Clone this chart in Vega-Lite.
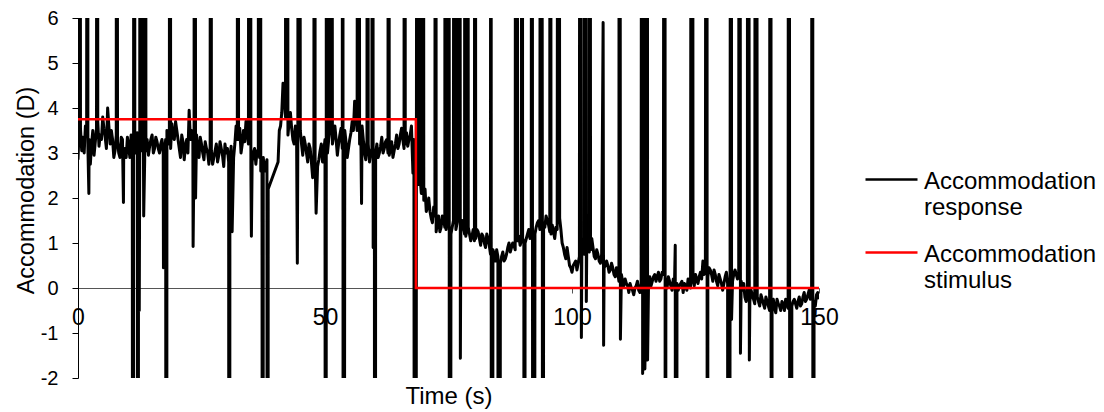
{
  "$schema": "https://vega.github.io/schema/vega-lite/v6.json",
  "autosize": {"type": "none"},
  "padding": {"left": 78, "top": 18, "right": 285, "bottom": 34},
  "width": 741,
  "height": 360,
  "background": "white",
  "config": {
    "font": "Liberation Sans",
    "view": {"stroke": null}
  },
  "datasets": {
    "response": [
      {"t":0,"v":2.85},{"t":0.3,"v":40},{"t":0.5,"v":3.55},{"t":1,"v":3.35},{"t":1.5,"v":3.6},{"t":1.96,"v":40},{"t":2,"v":3.15},{"t":2.2,"v":2.1},{"t":2.5,"v":2.75},{"t":3,"v":3.5},{"t":3.5,"v":3.25},{"t":3.9,"v":40},{"t":4,"v":3.7},{"t":4.5,"v":3.4},{"t":5,"v":3.8},{"t":5.5,"v":3.35},{"t":6,"v":4.0},{"t":6.5,"v":3.2},{"t":7,"v":3.3},{"t":7.5,"v":3.05},{"t":7.8,"v":40},{"t":8,"v":3.25},{"t":8.5,"v":2.9},{"t":9,"v":3.3},{"t":9.2,"v":1.9},{"t":9.5,"v":3.1},{"t":10,"v":3.35},
      {"t":10.5,"v":2.9},{"t":11,"v":3.2},{"t":11.1,"v":-40},{"t":11.4,"v":40},{"t":11.5,"v":3.0},{"t":12,"v":3.45},{"t":12.1,"v":-40},{"t":12.4,"v":-0.5},{"t":12.5,"v":3.1},{"t":12.6,"v":40},{"t":13,"v":3.35},{"t":13.1,"v":40},{"t":13.3,"v":1.6},{"t":13.5,"v":2.85},{"t":13.6,"v":40},{"t":14,"v":3.3},{"t":14.5,"v":3.15},{"t":15,"v":3.4},{"t":15.5,"v":3.1},{"t":16,"v":3.25},{"t":16.5,"v":3.0},{"t":17,"v":3.3},{"t":17.3,"v":0.45},{"t":17.5,"v":3.05},{"t":17.9,"v":-40},{"t":18,"v":3.5},{"t":18.5,"v":3.2},{"t":18.6,"v":40},{"t":19,"v":3.65},{"t":19.5,"v":3.3},{"t":20,"v":3.5},
      {"t":20.5,"v":3.1},{"t":21,"v":3.4},{"t":21.5,"v":2.85},{"t":22,"v":3.3},{"t":22.5,"v":3.95},{"t":23,"v":3.5},{"t":23.3,"v":0.92},{"t":23.5,"v":3.2},{"t":23.6,"v":40},{"t":23.8,"v":2.0},{"t":24,"v":3.4},{"t":24.5,"v":2.9},{"t":25,"v":3.2},{"t":25.5,"v":2.85},{"t":26,"v":3.1},{"t":26.5,"v":2.75},{"t":26.9,"v":40},{"t":27,"v":3.05},{"t":27.5,"v":2.9},{"t":28,"v":3.2},{"t":28.5,"v":2.95},{"t":29,"v":3.1},{"t":29.5,"v":2.7},{"t":30,"v":3.0},
      {"t":30.5,"v":2.8},{"t":30.6,"v":-40},{"t":31,"v":3.15},{"t":31.2,"v":1.25},{"t":31.5,"v":2.9},{"t":32,"v":3.6},{"t":32.4,"v":40},{"t":32.5,"v":3.3},{"t":33,"v":3.0},{"t":33.5,"v":3.5},{"t":34,"v":3.7},{"t":34.5,"v":3.2},{"t":34.8,"v":40},{"t":35,"v":2.65},{"t":35.1,"v":1.15},{"t":35.5,"v":3.0},{"t":36,"v":2.75},{"t":36.5,"v":2.95},{"t":36.6,"v":40},{"t":36.75,"v":2.9},{"t":36.9,"v":40},{"t":37,"v":2.6},{"t":37.4,"v":-40},{"t":37.5,"v":2.9},{"t":38,"v":2.7},{"t":38.4,"v":-40},{"t":38.5,"v":2.2},
      {"t":40.5,"v":2.8},{"t":41,"v":3.6},{"t":41.5,"v":4.55},{"t":42,"v":3.8},{"t":42.2,"v":40},{"t":42.5,"v":3.4},{"t":43,"v":3.9},{"t":43.5,"v":3.3},{"t":44,"v":3.6},{"t":44.4,"v":0.55},{"t":44.5,"v":3.2},{"t":44.7,"v":40},{"t":45,"v":3.5},{"t":45.5,"v":2.95},{"t":46,"v":3.2},{"t":46.5,"v":2.8},{"t":47,"v":3.1},{"t":47.5,"v":2.45},{"t":47.9,"v":40},{"t":48,"v":2.9},{"t":48.2,"v":1.66},{"t":48.5,"v":2.7},{"t":49,"v":3.05},{"t":49.5,"v":2.8},{"t":50,"v":3.3},
      {"t":50.2,"v":-40},{"t":50.3,"v":40},{"t":50.5,"v":3.0},{"t":51,"v":3.5},{"t":51.2,"v":40},{"t":51.5,"v":3.2},{"t":52,"v":3.6},{"t":52.5,"v":2.95},{"t":53,"v":3.4},{"t":53.5,"v":3.1},{"t":53.6,"v":40},{"t":53.7,"v":-40},{"t":54,"v":3.5},{"t":54.5,"v":2.9},{"t":55,"v":3.3},{"t":55.5,"v":3.7},{"t":56,"v":4.15},{"t":56.5,"v":3.5},{"t":56.8,"v":40},{"t":57,"v":3.2},{"t":57.4,"v":1.88},{"t":57.5,"v":3.6},{"t":58,"v":3.0},{"t":58.5,"v":3.3},{"t":58.6,"v":40},{"t":59,"v":2.8},{"t":59.5,"v":3.1},{"t":59.6,"v":40},{"t":59.75,"v":0.9},{"t":60,"v":2.9},
      {"t":60.1,"v":-40},{"t":60.5,"v":3.2},{"t":61,"v":3.0},{"t":61.5,"v":3.35},{"t":62,"v":3.1},{"t":62.5,"v":3.3},{"t":62.9,"v":40},{"t":63,"v":2.95},{"t":63.5,"v":3.25},{"t":64,"v":3.05},{"t":64.5,"v":3.4},{"t":65,"v":3.2},{"t":65.5,"v":3.55},{"t":66,"v":3.1},{"t":66.1,"v":40},{"t":66.5,"v":3.45},{"t":67,"v":3.3},{"t":67.5,"v":3.6},{"t":67.8,"v":2.55},{"t":68,"v":3.3},{"t":68.3,"v":-40},{"t":68.5,"v":2.6},{"t":68.8,"v":40},{"t":69,"v":2.3},{"t":69.5,"v":2.1},{"t":69.8,"v":40},{"t":70,"v":1.95},
      {"t":70.5,"v":1.7},{"t":71,"v":2.0},{"t":71.5,"v":1.55},{"t":72,"v":1.8},{"t":72.4,"v":40},{"t":72.5,"v":1.25},{"t":73,"v":1.6},{"t":73.5,"v":1.35},{"t":74,"v":1.55},{"t":74.4,"v":40},{"t":74.5,"v":1.3},{"t":75,"v":1.45},{"t":75.1,"v":40},{"t":75.2,"v":-40},{"t":75.5,"v":1.2},{"t":76,"v":1.5},{"t":76.2,"v":40},{"t":76.5,"v":1.3},{"t":77,"v":1.6},{"t":77.2,"v":40},{"t":77.4,"v":-1.56},{"t":77.5,"v":1.25},{"t":78,"v":1.4},{"t":78.4,"v":40},{"t":78.5,"v":1.15},{"t":78.9,"v":40},{"t":79,"v":1.35},{"t":79.5,"v":1.05},{"t":80,"v":1.3},
      {"t":80.4,"v":40},{"t":80.5,"v":1.1},{"t":81,"v":1.25},{"t":81.5,"v":0.95},{"t":82,"v":1.15},{"t":82.5,"v":0.9},{"t":83,"v":1.1},{"t":83.5,"v":0.75},{"t":83.6,"v":40},{"t":83.7,"v":-40},{"t":84,"v":0.85},{"t":84.5,"v":0.6},{"t":85,"v":0.7},{"t":85.2,"v":-40},{"t":85.5,"v":0.55},{"t":86,"v":0.8},{"t":86.5,"v":0.65},{"t":87,"v":0.9},{"t":87.5,"v":0.8},{"t":88,"v":1.0},{"t":88.5,"v":0.85},{"t":88.7,"v":40},{"t":89,"v":1.05},{"t":89.5,"v":0.95},{"t":89.9,"v":40},{"t":90,"v":1.1},
      {"t":90.4,"v":-40},{"t":90.5,"v":1.0},{"t":91,"v":1.2},{"t":91.5,"v":1.1},{"t":91.9,"v":40},{"t":92,"v":1.35},{"t":92.2,"v":-40},{"t":92.5,"v":1.2},{"t":93,"v":1.45},{"t":93.5,"v":1.3},{"t":93.7,"v":40},{"t":94,"v":1.6},{"t":94.1,"v":-40},{"t":94.5,"v":1.35},{"t":95,"v":1.5},{"t":95.5,"v":1.25},{"t":95.6,"v":40},{"t":96,"v":1.4},{"t":96.5,"v":1.1},{"t":97,"v":1.3},{"t":97.3,"v":40},{"t":97.5,"v":1.55},{"t":98,"v":1.0},{"t":98.5,"v":0.75},{"t":99,"v":0.9},{"t":99.5,"v":0.5},{"t":100,"v":0.35},
      {"t":100.5,"v":0.55},{"t":101,"v":0.4},{"t":101.5,"v":0.7},{"t":101.7,"v":40},{"t":101.9,"v":-1.1},{"t":102,"v":0.95},{"t":102.5,"v":0.75},{"t":102.7,"v":40},{"t":102.9,"v":-0.3},{"t":103,"v":1.05},{"t":103.5,"v":0.8},{"t":103.6,"v":40},{"t":104,"v":1.1},{"t":104.5,"v":0.7},{"t":105,"v":0.85},{"t":105.5,"v":0.6},{"t":106,"v":0.75},{"t":106.3,"v":5.9},{"t":106.4,"v":-1.27},{"t":106.5,"v":0.45},{"t":107,"v":0.6},{"t":107.5,"v":0.35},{"t":108,"v":0.55},{"t":108.5,"v":0.3},{"t":109,"v":0.45},{"t":109.5,"v":0.15},{"t":109.6,"v":40},{"t":109.8,"v":-1.14},{"t":110,"v":0.3},
      {"t":110.5,"v":0.05},{"t":111,"v":0.1},{"t":111.5,"v":-0.1},{"t":112,"v":0.0},{"t":112.5,"v":-0.15},{"t":113,"v":0.05},{"t":113.5,"v":-0.05},{"t":114,"v":0.1},{"t":114.2,"v":40},{"t":114.3,"v":-1.9},{"t":114.5,"v":-0.2},{"t":114.6,"v":40},{"t":114.75,"v":-1.8},{"t":115,"v":0.05},{"t":115.2,"v":40},{"t":115.3,"v":-1.6},{"t":115.5,"v":0.15},{"t":116,"v":0.05},{"t":116.5,"v":0.25},{"t":117,"v":0.15},{"t":117.5,"v":0.35},{"t":118,"v":0.2},{"t":118.5,"v":0.3},{"t":118.8,"v":40},{"t":118.9,"v":-40},{"t":119,"v":0.1},{"t":119.5,"v":0.25},{"t":120,"v":0.05},
      {"t":120.5,"v":0.2},{"t":120.9,"v":0.95},{"t":121.1,"v":-40},{"t":121.5,"v":-0.05},{"t":122,"v":0.1},{"t":122.5,"v":-0.1},{"t":123,"v":0.05},{"t":123.5,"v":0.2},{"t":124,"v":0.0},{"t":124.3,"v":40},{"t":124.5,"v":0.15},{"t":125,"v":0.3},{"t":125.5,"v":0.1},{"t":126,"v":0.35},{"t":126.5,"v":0.6},{"t":127,"v":0.45},{"t":127.3,"v":40},{"t":127.4,"v":-40},{"t":127.5,"v":0.25},{"t":128,"v":0.4},{"t":128.5,"v":0.15},{"t":129,"v":0.3},{"t":129.5,"v":0.05},{"t":130,"v":0.2},
      {"t":130.5,"v":-0.05},{"t":131,"v":0.25},{"t":131.5,"v":0.1},{"t":131.7,"v":-40},{"t":132,"v":0.3},{"t":132.2,"v":40},{"t":132.3,"v":-0.7},{"t":132.5,"v":0.15},{"t":133,"v":0.4},{"t":133.5,"v":0.2},{"t":133.9,"v":40},{"t":134.1,"v":-1.45},{"t":134.5,"v":-0.05},{"t":135,"v":-0.2},{"t":135.5,"v":-0.1},{"t":135.6,"v":40},{"t":135.9,"v":-1.6},{"t":136,"v":-0.3},{"t":136.5,"v":-0.15},{"t":137,"v":-0.35},{"t":137.2,"v":40},{"t":137.5,"v":-0.2},{"t":138,"v":-0.4},{"t":138.5,"v":-0.25},{"t":139,"v":-0.45},{"t":139.5,"v":-0.3},{"t":140,"v":-0.5},
      {"t":140.2,"v":40},{"t":140.4,"v":-40},{"t":140.5,"v":-0.35},{"t":141,"v":-0.45},{"t":141.5,"v":-0.25},{"t":142,"v":-0.4},{"t":142.5,"v":-0.3},{"t":143,"v":-0.5},{"t":143.5,"v":-0.35},{"t":143.9,"v":40},{"t":144.2,"v":-40},{"t":144.5,"v":-0.4},{"t":145,"v":-0.25},{"t":145.5,"v":-0.45},{"t":146,"v":-0.2},{"t":146.5,"v":-0.35},{"t":147,"v":-0.1},{"t":147.5,"v":-0.25},{"t":148,"v":-0.05},{"t":148.5,"v":-0.2},{"t":148.7,"v":40},{"t":148.8,"v":-40},{"t":149,"v":-0.3},{"t":149.5,"v":-0.15},{"t":150,"v":-0.25},
      {"t":0.25,"v":3.6},{"t":0.75,"v":3.05},{"t":1.25,"v":3.0},{"t":1.75,"v":3.45},{"t":2.25,"v":3.3},{"t":2.75,"v":3.2},{"t":3.25,"v":2.95},{"t":3.75,"v":3.55},{"t":4.25,"v":3.15},{"t":4.75,"v":3.3},{"t":5.25,"v":3.55},{"t":5.75,"v":3.1},{"t":6.25,"v":3.6},{"t":6.75,"v":3.5},{"t":7.25,"v":2.9},{"t":7.75,"v":3.4},{"t":8.25,"v":3.0},{"t":8.75,"v":3.35},{"t":9.25,"v":2.95},{"t":9.75,"v":2.9},
      {"t":10.25,"v":3.15},{"t":10.75,"v":3.4},{"t":11.25,"v":3.1},{"t":11.75,"v":3.15},{"t":12.25,"v":3.2},{"t":12.75,"v":3.05},{"t":13.25,"v":3.0},{"t":13.75,"v":3.05},{"t":14.25,"v":2.95},{"t":14.75,"v":3.3},{"t":15.25,"v":3.0},{"t":15.75,"v":3.35},{"t":16.25,"v":3.1},{"t":16.75,"v":3.2},{"t":17.25,"v":3.0},{"t":17.75,"v":3.3},{"t":18.25,"v":3.25},{"t":18.75,"v":3.1},{"t":19.25,"v":3.35},{"t":19.75,"v":3.7},
      {"t":20.25,"v":3.3},{"t":20.75,"v":2.9},{"t":21.25,"v":3.25},{"t":21.75,"v":3.15},{"t":22.25,"v":3.0},{"t":22.75,"v":3.3},{"t":23.25,"v":3.3},{"t":24.25,"v":3.1},{"t":24.75,"v":3.35},{"t":25.25,"v":3.0},{"t":25.75,"v":3.25},{"t":26.25,"v":3.0},{"t":26.75,"v":3.15},{"t":27.25,"v":2.75},{"t":27.75,"v":3.05},{"t":28.25,"v":2.8},{"t":28.75,"v":3.25},{"t":29.25,"v":2.95},{"t":29.75,"v":3.2},
      {"t":30.25,"v":3.1},{"t":30.75,"v":2.85},{"t":31.75,"v":3.2},{"t":32.25,"v":3.3},{"t":32.75,"v":3.55},{"t":33.25,"v":3.2},{"t":33.75,"v":3.25},{"t":34.25,"v":3.45},{"t":35.25,"v":2.8},{"t":35.75,"v":3.1},{"t":36.25,"v":3.05},{"t":37.25,"v":2.9},{"t":37.75,"v":2.6},{"t":38.25,"v":2.85},
      {"t":40.75,"v":3.5},{"t":41.25,"v":3.9},{"t":41.75,"v":4.2},{"t":42.75,"v":3.7},{"t":43.25,"v":3.55},{"t":43.75,"v":3.2},{"t":44.25,"v":3.3},{"t":45.25,"v":3.2},{"t":45.75,"v":3.35},{"t":46.25,"v":3.0},{"t":46.75,"v":3.2},{"t":47.25,"v":2.8},{"t":47.75,"v":2.9},{"t":48.75,"v":2.85},{"t":49.25,"v":3.2},{"t":49.75,"v":3.05},
      {"t":50.75,"v":3.3},{"t":51.75,"v":3.4},{"t":52.25,"v":3.3},{"t":52.75,"v":3.2},{"t":53.25,"v":3.55},{"t":54.25,"v":3.25},{"t":54.75,"v":3.1},{"t":55.25,"v":3.45},{"t":55.75,"v":3.5},{"t":56.25,"v":3.8},{"t":57.25,"v":3.45},{"t":57.75,"v":3.3},{"t":58.25,"v":2.85},{"t":58.75,"v":3.2},{"t":59.25,"v":3.0},
      {"t":60.25,"v":3.0},{"t":60.75,"v":2.9},{"t":61.25,"v":3.15},{"t":61.75,"v":3.0},{"t":62.25,"v":3.25},{"t":62.75,"v":3.0},{"t":63.25,"v":3.1},{"t":63.75,"v":2.9},{"t":64.25,"v":3.2},{"t":64.75,"v":3.1},{"t":65.25,"v":3.4},{"t":65.75,"v":3.3},{"t":66.25,"v":3.2},{"t":66.75,"v":3.15},{"t":67.25,"v":3.4},
      {"t":69.25,"v":2.45},{"t":70.25,"v":2.2},{"t":70.75,"v":1.8},{"t":71.25,"v":1.7},{"t":71.75,"v":1.45},{"t":72.25,"v":1.6},{"t":72.75,"v":1.45},{"t":73.25,"v":1.25},{"t":73.75,"v":1.6},{"t":74.25,"v":1.35},{"t":74.75,"v":1.55},{"t":75.75,"v":1.35},{"t":76.75,"v":1.45},{"t":77.75,"v":1.5},{"t":78.25,"v":1.2},{"t":78.75,"v":1.3},{"t":79.25,"v":1.2},{"t":79.75,"v":1.15},
      {"t":80.25,"v":1.05},{"t":80.75,"v":1.3},{"t":81.25,"v":1.1},{"t":81.75,"v":1.2},{"t":82.25,"v":1.0},{"t":82.75,"v":1.2},{"t":83.25,"v":0.95},{"t":84.25,"v":0.75},{"t":84.75,"v":0.85},{"t":85.75,"v":0.7},{"t":86.25,"v":0.6},{"t":86.75,"v":0.75},{"t":87.25,"v":1.0},{"t":87.75,"v":0.9},{"t":88.25,"v":0.95},{"t":89.25,"v":1.15},{"t":89.75,"v":1.05},
      {"t":90.25,"v":1.0},{"t":90.75,"v":1.1},{"t":91.25,"v":1.3},{"t":91.75,"v":1.25},{"t":92.75,"v":1.35},{"t":93.25,"v":1.5},{"t":94.25,"v":1.45},{"t":94.75,"v":1.6},{"t":95.25,"v":1.4},{"t":95.75,"v":1.2},{"t":96.25,"v":1.25},{"t":96.75,"v":1.35},{"t":97.75,"v":1.3},{"t":98.25,"v":0.9},{"t":98.75,"v":0.65},{"t":99.25,"v":0.7},{"t":99.75,"v":0.45},
      {"t":100.25,"v":0.5},{"t":100.75,"v":0.6},{"t":101.25,"v":0.55},{"t":102.25,"v":0.85},{"t":103.25,"v":0.9},{"t":103.75,"v":0.85},{"t":104.25,"v":0.9},{"t":104.75,"v":0.65},{"t":105.25,"v":0.75},{"t":105.75,"v":0.55},{"t":106.75,"v":0.5},{"t":107.25,"v":0.5},{"t":107.75,"v":0.4},{"t":108.25,"v":0.45},{"t":108.75,"v":0.25},{"t":109.25,"v":0.35},
      {"t":110.25,"v":0.15},{"t":110.75,"v":0.2},{"t":111.25,"v":0.05},{"t":111.75,"v":0.1},{"t":112.25,"v":-0.05},{"t":112.75,"v":0.0},{"t":113.25,"v":0.15},{"t":113.75,"v":-0.1},{"t":115.75,"v":0.25},{"t":116.25,"v":0.15},{"t":116.75,"v":0.3},{"t":117.25,"v":0.25},{"t":117.75,"v":0.15},{"t":118.25,"v":0.35},{"t":119.25,"v":0.0},{"t":119.75,"v":0.15},
      {"t":120.25,"v":-0.05},{"t":120.75,"v":0.1},{"t":121.25,"v":0.1},{"t":121.75,"v":0.05},{"t":122.25,"v":0.15},{"t":122.75,"v":0.1},{"t":123.25,"v":-0.05},{"t":123.75,"v":0.1},{"t":124.75,"v":0.05},{"t":125.25,"v":0.2},{"t":125.75,"v":0.25},{"t":126.25,"v":0.2},{"t":126.75,"v":0.3},{"t":127.75,"v":0.45},{"t":128.25,"v":0.3},{"t":128.75,"v":0.4},{"t":129.25,"v":0.15},{"t":129.75,"v":0.3},
      {"t":130.25,"v":0.1},{"t":130.75,"v":0.1},{"t":131.25,"v":0.35},{"t":132.75,"v":0.3},{"t":133.25,"v":0.3},{"t":133.75,"v":0.35},{"t":134.25,"v":0.15},{"t":134.75,"v":0.1},{"t":135.25,"v":-0.3},{"t":136.25,"v":-0.05},{"t":136.75,"v":-0.25},{"t":137.75,"v":-0.3},{"t":138.25,"v":-0.15},{"t":138.75,"v":-0.35},{"t":139.25,"v":-0.2},{"t":139.75,"v":-0.4},
      {"t":140.75,"v":-0.25},{"t":141.25,"v":-0.55},{"t":141.75,"v":-0.35},{"t":142.25,"v":-0.5},{"t":142.75,"v":-0.35},{"t":143.25,"v":-0.25},{"t":143.75,"v":-0.45},{"t":144.75,"v":-0.3},{"t":145.25,"v":-0.35},{"t":145.75,"v":-0.3},{"t":146.25,"v":-0.4},{"t":146.75,"v":-0.2},{"t":147.25,"v":-0.3},{"t":147.75,"v":-0.15},{"t":148.25,"v":-0.25},{"t":149.25,"v":-0.4},{"t":149.75,"v":-0.1}
    ],
    "stimulus": [
      {"t":0,"v":3.75},{"t":68.4,"v":3.75},{"t":68.4,"v":0},{"t":150,"v":0}
    ]
  },
  "layer": [
    {
      "data": {"name": "response"},
      "mark": {"type": "line", "clip": true, "strokeWidth": 3, "strokeJoin": "round"},
      "encoding": {
        "x": {
          "field": "t", "type": "quantitative",
          "scale": {"domain": [0, 150], "nice": false, "zero": false},
          "axis": {
            "title": "Time (s)", "values": [0, 50, 100, 150], "grid": false,
            "offset": -90, "domainColor": "#555555", "domainWidth": 1,
            "tickColor": "#555555", "tickSize": 5, "labelPadding": 13,
            "labelFlush": false, "labelFontSize": 23, "labelColor": "#000000",
            "labelExpr": "'' + datum.value",
            "titleFontSize": 24, "titleFontWeight": "normal", "titleColor": "#000000",
            "titleBaseline": "alphabetic", "titleY": 115
          }
        },
        "y": {
          "field": "v", "type": "quantitative",
          "scale": {"domain": [-2, 6], "nice": false, "zero": false},
          "axis": {
            "title": "Accommodation (D)", "values": [-2, -1, 0, 1, 2, 3, 4, 5, 6], "grid": false,
            "domainColor": "#000000", "domainWidth": 1, "tickColor": "#000000",
            "tickSize": 6, "labelPadding": 14, "labelFontSize": 20, "labelColor": "#000000",
            "labelExpr": "'' + datum.value",
            "titleFontSize": 23.5, "titleFontWeight": "normal", "titleColor": "#000000",
            "titleBaseline": "alphabetic", "titleX": -45, "titleY": 172, "titleAlign": "center"
          }
        },
        "color": {
          "datum": "Accommodation response", "type": "nominal",
          "scale": {"domain": ["Accommodation response", "Accommodation stimulus"], "range": ["#000000", "#ff0000"]},
          "legend": {
            "title": null, "orient": "none", "legendX": 786, "legendY": 134, "padding": 0,
            "symbolType": "stroke", "symbolSize": 2704, "symbolStrokeWidth": 2.5,
            "labelFontSize": 24, "labelColor": "#000000", "labelOffset": 5, "labelLimit": 300,
            "rowPadding": 5, "labelBaseline": "top",
            "labelExpr": "split(datum.label, ' ')",
            "encode": {"labels": {"update": {"dy": {"value": -10}}}}
          }
        }
      }
    },
    {
      "data": {"name": "stimulus"},
      "mark": {"type": "line", "clip": true, "strokeWidth": 2.5, "strokeJoin": "miter"},
      "encoding": {
        "x": {"field": "t", "type": "quantitative"},
        "y": {"field": "v", "type": "quantitative"},
        "color": {"datum": "Accommodation stimulus", "type": "nominal"}
      }
    }
  ]
}
